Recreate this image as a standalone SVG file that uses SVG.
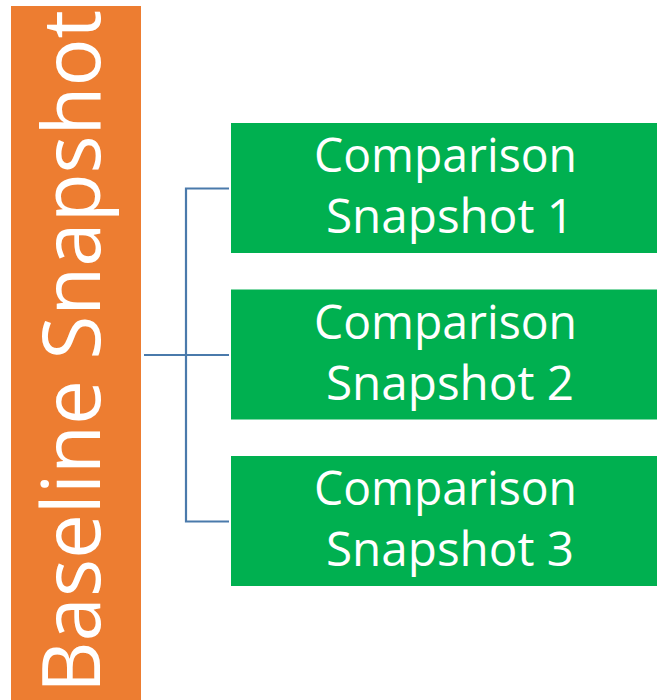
<svg xmlns="http://www.w3.org/2000/svg" width="657" height="700" viewBox="0 0 657 700">
<style>
.box{fill:#00B050}
.lbl{fill:#FFFFFF;font-family:"Open Sans","Liberation Sans",sans-serif;font-size:48px;text-anchor:middle}
.conn{stroke:#4A7AAB;stroke-width:2.2;fill:none}
</style>
<rect width="657" height="700" fill="#FFFFFF"/>
<g id="baseline">
<rect x="11" y="6" width="130" height="694" fill="#ED7D31"/>
<text transform="translate(100,351.5) rotate(-90)" font-family="'Open Sans','Liberation Sans',sans-serif" font-size="80" fill="#FFFFFF" text-anchor="middle" textLength="683" lengthAdjust="spacingAndGlyphs">Baseline Snapshot</text>
</g>
<g id="connectors">
<path class="conn" d="M144 355H229"/>
<path class="conn" d="M229 188.5H186V521.5H229"/>
</g>
<g id="comp1">
<rect class="box" x="231" y="123" width="426" height="130"/>
<text class="lbl" x="445.5" y="172" textLength="263" lengthAdjust="spacingAndGlyphs">Comparison</text>
<text class="lbl" x="450" y="233" textLength="248" lengthAdjust="spacingAndGlyphs">Snapshot 1</text>
</g>
<g id="comp2">
<rect class="box" x="231" y="289.5" width="426" height="130"/>
<text class="lbl" x="445.5" y="338.5" textLength="263" lengthAdjust="spacingAndGlyphs">Comparison</text>
<text class="lbl" x="450" y="399.5" textLength="248" lengthAdjust="spacingAndGlyphs">Snapshot 2</text>
</g>
<g id="comp3">
<rect class="box" x="231" y="456" width="426" height="130"/>
<text class="lbl" x="445.5" y="505" textLength="263" lengthAdjust="spacingAndGlyphs">Comparison</text>
<text class="lbl" x="450" y="566" textLength="248" lengthAdjust="spacingAndGlyphs">Snapshot 3</text>
</g>
</svg>
